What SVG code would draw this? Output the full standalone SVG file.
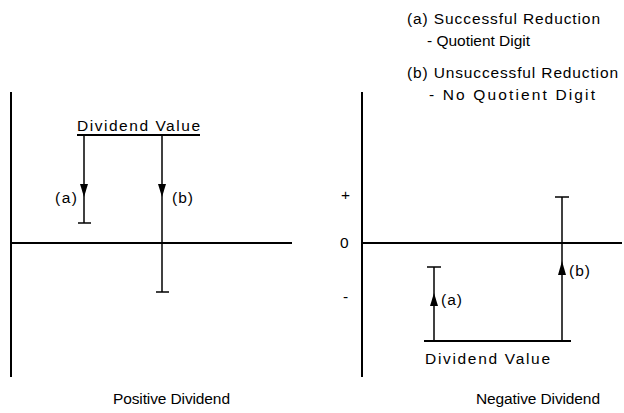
<svg xmlns="http://www.w3.org/2000/svg" width="624" height="413" viewBox="0 0 624 413">
<style>
text{font-family:"Liberation Sans",Arial,sans-serif;font-size:15.5px;fill:#000}
.ax{stroke:#000;stroke-width:2;fill:none}
.ln{stroke:#000;stroke-width:1.5;fill:none}
.ah{fill:#000}
</style>
<rect width="624" height="413" fill="#fff"/>
<g id="legend">
<text x="407" y="24" textLength="193" lengthAdjust="spacing">(a) Successful Reduction</text>
<text x="427" y="46" textLength="103" lengthAdjust="spacing">- Quotient Digit</text>
<text x="407" y="78" textLength="211" lengthAdjust="spacing">(b) Unsuccessful Reduction</text>
<text x="429" y="100" textLength="166" lengthAdjust="spacing">- No Quotient Digit</text>
</g>
<g id="positive-axes">
<line class="ax" x1="11" y1="92" x2="11" y2="377"/>
<line class="ax" x1="11" y1="243" x2="292" y2="243"/>
</g>
<g id="positive-dividend-value">
<line class="ax" x1="77" y1="135" x2="200" y2="135"/>
<text x="77" y="131" textLength="123" lengthAdjust="spacing">Dividend Value</text>
</g>
<g id="connectors">
<line class="ln" x1="84" y1="135" x2="84" y2="223"/>
<line class="ln" x1="78" y1="223" x2="91" y2="223"/>
<polygon class="ah" points="80,184 88,184 84,197"/>
<line class="ln" x1="162" y1="135" x2="162" y2="292"/>
<line class="ln" x1="156" y1="292" x2="169" y2="292"/>
<polygon class="ah" points="158,184 166,184 162,197"/>
<line class="ln" x1="434" y1="267" x2="434" y2="341"/>
<line class="ln" x1="427" y1="267" x2="441" y2="267"/>
<polygon class="ah" points="430,306 438,306 434,293"/>
<line class="ln" x1="562" y1="197" x2="562" y2="341"/>
<line class="ln" x1="555" y1="197" x2="569" y2="197"/>
<polygon class="ah" points="558,275 566,275 562,261"/>
</g>
<g id="positive-labels">
<text x="55" y="203" textLength="22" lengthAdjust="spacing">(a)</text>
<text x="172" y="203" textLength="21" lengthAdjust="spacing">(b)</text>
<text x="113" y="404" textLength="117" lengthAdjust="spacing">Positive Dividend</text>
</g>
<g id="negative-axes">
<line class="ax" x1="362" y1="92" x2="362" y2="377"/>
<line class="ax" x1="362" y1="243" x2="622" y2="243"/>
<text x="341" y="200">+</text>
<text x="340" y="248">0</text>
<text x="343" y="302">-</text>
</g>
<g id="negative-dividend-value">
<line class="ax" x1="424" y1="341" x2="571" y2="341"/>
<text x="425" y="364" textLength="125" lengthAdjust="spacing">Dividend Value</text>
</g>
<g id="negative-labels">
<text x="441" y="305" textLength="21" lengthAdjust="spacing">(a)</text>
<text x="569" y="276" textLength="21" lengthAdjust="spacing">(b)</text>
<text x="476" y="404" textLength="124" lengthAdjust="spacing">Negative Dividend</text>
</g>
</svg>
